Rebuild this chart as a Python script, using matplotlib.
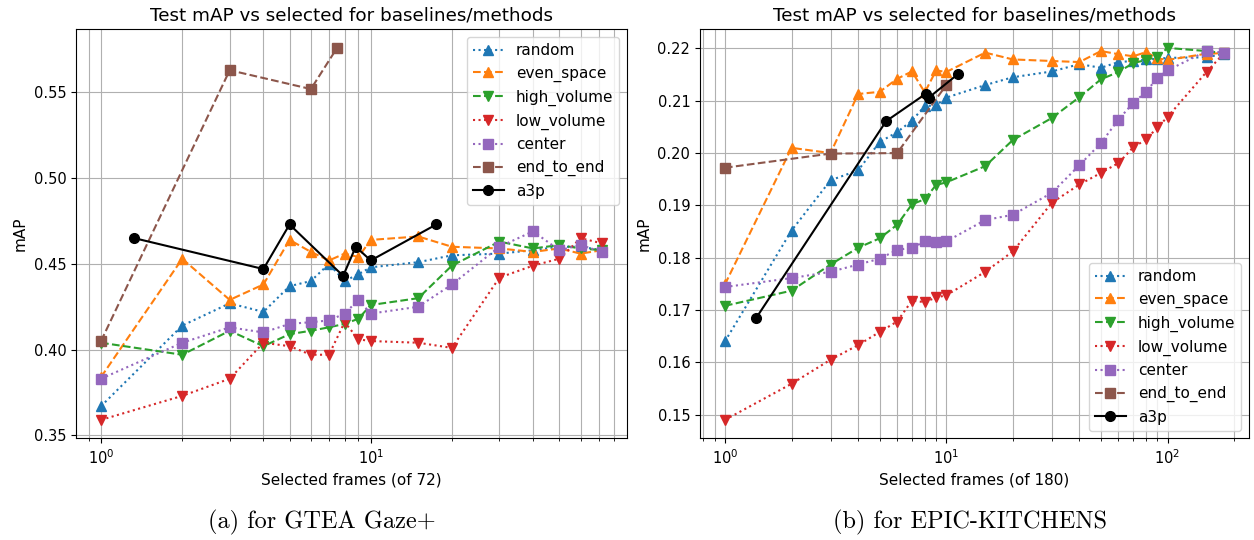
import numpy as np
import matplotlib.pyplot as plt

plt.rcParams['font.size'] = 11
plt.rcParams['xtick.labelsize'] = 10.5
plt.rcParams['ytick.labelsize'] = 10.5

# --- GTEA Gaze+ (72 frames) ---
gtea_x = [1, 2, 3, 4, 5, 6, 7, 8, 9, 10, 15, 20, 30, 40, 50, 60, 72]
gtea_random = [0.367, 0.414, 0.427, 0.422, 0.437, 0.440, 0.450, 0.440, 0.444, 0.448,
               0.451, 0.455, 0.456, 0.458, 0.460, 0.460, 0.458]
gtea_even_space = [0.384, 0.453, 0.429, 0.438, 0.464, 0.457, 0.452, 0.456, 0.454, 0.464,
                   0.466, 0.460, 0.459, 0.457, 0.459, 0.456, 0.458]
gtea_high_volume = [0.404, 0.397, 0.411, 0.402, 0.409, 0.411, 0.413, 0.415, 0.418, 0.426,
                    0.430, 0.449, 0.463, 0.459, 0.461, 0.459, 0.458]
gtea_low_volume = [0.359, 0.373, 0.383, 0.404, 0.402, 0.397, 0.397, 0.416, 0.406, 0.405,
                   0.404, 0.401, 0.442, 0.449, 0.453, 0.465, 0.462]
gtea_center = [0.383, 0.404, 0.413, 0.410, 0.415, 0.416, 0.417, 0.421, 0.429, 0.421,
               0.425, 0.438, 0.460, 0.469, 0.458, 0.461, 0.457]
gtea_e2e_x = [1, 3, 6, 7.5]
gtea_e2e = [0.405, 0.563, 0.552, 0.576]
gtea_a3p_x = [1.33, 4.0, 5.0, 7.9, 8.8, 10.0, 17.5]
gtea_a3p = [0.465, 0.447, 0.473, 0.443, 0.460, 0.452, 0.473]

# --- EPIC-KITCHENS (180 frames) ---
epic_x = [1, 2, 3, 4, 5, 6, 7, 8, 9, 10, 15, 20, 30, 40, 50, 60, 70, 80, 90, 100, 150, 180]
epic_random = [0.1640, 0.1852, 0.1948, 0.1967, 0.2021, 0.2040, 0.2062, 0.2090, 0.2091, 0.2106,
               0.2130, 0.2145, 0.2156, 0.2170, 0.2163, 0.2174, 0.2176, 0.2179, 0.2180, 0.2182,
               0.2183, 0.2190]
epic_even_space = [0.1749, 0.2010, 0.2000, 0.2113, 0.2117, 0.2142, 0.2156, 0.2116, 0.2158, 0.2155,
                   0.2192, 0.2179, 0.2176, 0.2174, 0.2195, 0.2189, 0.2185, 0.2193, 0.2181, 0.2178,
                   0.2190, 0.2191]
epic_high_volume = [0.1708, 0.1737, 0.1787, 0.1819, 0.1837, 0.1863, 0.1902, 0.1912, 0.1939, 0.1944,
                    0.1975, 0.2025, 0.2067, 0.2107, 0.2141, 0.2155, 0.2172, 0.2178, 0.2184, 0.2201,
                    0.2195, 0.2191]
epic_low_volume = [0.1490, 0.1559, 0.1605, 0.1633, 0.1658, 0.1678, 0.1718, 0.1715, 0.1724, 0.1728,
                   0.1773, 0.1812, 0.1905, 0.1940, 0.1962, 0.1981, 0.2011, 0.2026, 0.2049, 0.2069,
                   0.2155, 0.2191]
epic_center = [0.1744, 0.1761, 0.1773, 0.1787, 0.1798, 0.1815, 0.1819, 0.1831, 0.1830, 0.1831,
               0.1872, 0.1882, 0.1924, 0.1977, 0.2019, 0.2064, 0.2096, 0.2117, 0.2144, 0.2158,
               0.2195, 0.2192]
epic_e2e_x = [1, 3, 6, 10]
epic_e2e = [0.1972, 0.1999, 0.2000, 0.2130]
epic_a3p_x = [1.38, 5.35, 8.06, 8.34, 11.3]
epic_a3p = [0.1684, 0.2061, 0.2113, 0.2106, 0.2151]


def draw_panel(ax, x, rnd, even, high, low, center, e2e_x, e2e, a3p_x, a3p, n_frames, loc):
    ax.plot(x, rnd, ':', marker='^', color='C0', ms=7, label='random')
    ax.plot(x, even, '--', marker='^', color='C1', ms=7, label='even_space')
    ax.plot(x, high, '--', marker='v', color='C2', ms=7, label='high_volume')
    ax.plot(x, low, ':', marker='v', color='C3', ms=7, label='low_volume')
    ax.plot(x, center, ':', marker='s', color='C4', ms=7, label='center')
    ax.plot(e2e_x, e2e, '--', marker='s', color='C5', ms=7, label='end_to_end')
    ax.plot(a3p_x, a3p, '-', marker='o', color='black', ms=7, label='a3p')
    ax.set_xscale('log')
    ax.grid(True, which='both')
    ax.set_title('Test mAP vs selected for baselines/methods', fontsize=13.2)
    ax.set_xlabel('Selected frames (of %d)' % n_frames)
    ax.set_ylabel('mAP')
    ax.legend(loc=loc)


fig = plt.figure(figsize=(12.54, 5.4), dpi=100)
ax1 = fig.add_axes([0.0606, 0.188, 0.4394, 0.7577])
ax2 = fig.add_axes([0.5582, 0.188, 0.4378, 0.7577])

draw_panel(ax1, gtea_x, gtea_random, gtea_even_space, gtea_high_volume, gtea_low_volume,
           gtea_center, gtea_e2e_x, gtea_e2e, gtea_a3p_x, gtea_a3p, 72, 'upper right')
draw_panel(ax2, epic_x, epic_random, epic_even_space, epic_high_volume, epic_low_volume,
           epic_center, epic_e2e_x, epic_e2e, epic_a3p_x, epic_a3p, 180, 'lower right')

ax1.set_yticks(np.arange(0.35, 0.551, 0.05))
ax2.set_yticks(np.arange(0.15, 0.221, 0.01))

fig.text(0.257, 0.022, '(a) for GTEA Gaze+', family='cmr10', fontsize=17.5, ha='center')
fig.text(0.7735, 0.022, '(b) for EPIC-KITCHENS', family='cmr10', fontsize=17.5, ha='center')

fig.savefig('out.png', dpi=100)
